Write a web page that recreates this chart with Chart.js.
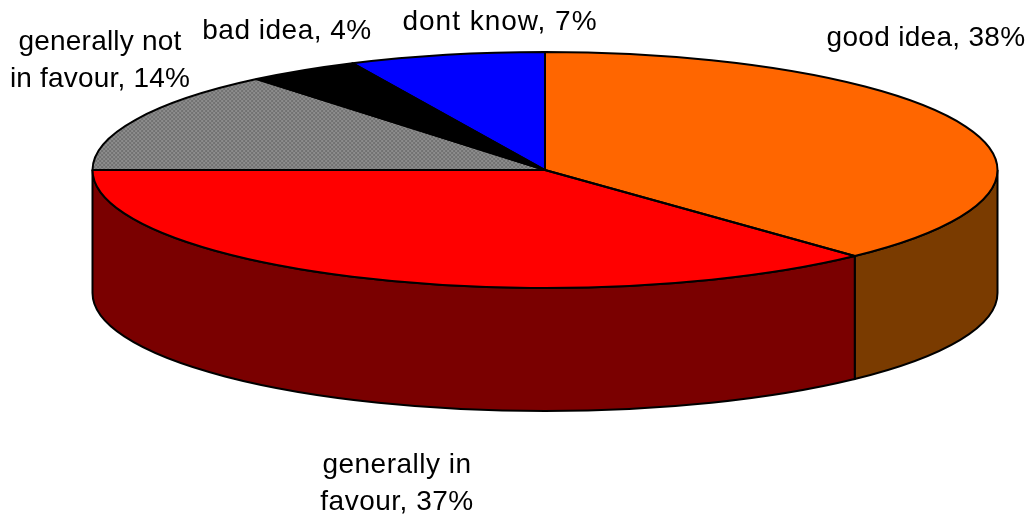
<!DOCTYPE html>
<html>
<head>
<meta charset="utf-8">
<script src="https://cdn.jsdelivr.net/npm/chart.js@4/dist/chart.umd.js"></script>
<style>
  body { margin: 0; background: #fff; }
  canvas { display: block; filter: blur(0.5px); }
</style>
</head>
<body>
<canvas id="pie3d" width="1030" height="515"></canvas>
<script>
const categories = ['good idea', 'generally in favour', 'generally not in favour', 'bad idea', 'dont know'];
const shares = [38, 37, 14, 4, 7];
const topColors = ['#ff6600', '#ff0000', '#808080', '#000000', '#0000ff'];
const sideColors = ['#7a3b00', '#7a0000', '#404040', '#000000', '#000080'];

// label text broken up the way the picture does it
const labelLines = [
  ['good idea, 38%'],
  ['generally in', 'favour, 37%'],
  ['generally not', 'in favour, 14%'],
  ['bad idea, 4%'],
  ['dont know, 7%']
];
const labelSpots = [
  { x: 926, y: 46 },
  { x: 397, y: 473 },
  { x: 100, y: 50 },
  { x: 287, y: 39 },
  { x: 500, y: 30 }
];
const labelTracking = ['0.3px', '0.5px', '0.2px', '0.5px', '1px'];
const labelLeading = 37;

const stretchX = 452.5 / 118; // pie is squashed into an ellipse
const wallDepth = 123;

function ditherGrey() {
  const tile = document.createElement('canvas');
  tile.width = tile.height = 4;
  const c = tile.getContext('2d');
  c.fillStyle = '#8c8c8c';
  c.fillRect(0, 0, 4, 4);
  c.fillStyle = '#727272';
  c.fillRect(0, 0, 2, 2);
  c.fillRect(2, 2, 2, 2);
  const pattern = c.createPattern(tile, 'repeat');
  pattern.setTransform(new DOMMatrix().scale(1 / stretchX, 1));
  return pattern;
}

function squash(ctx, arc) {
  ctx.translate(arc.x, arc.y);
  ctx.scale(stretchX, 1);
  ctx.translate(-arc.x, -arc.y);
}

const pie3d = {
  id: 'pie3d',
  beforeDatasetsDraw(chart) {
    const ctx = chart.ctx;
    const arcs = chart.getDatasetMeta(0).data;
    const p = arcs[0];
    const rx = p.outerRadius * stretchX, ry = p.outerRadius;
    ctx.save();
    ctx.lineWidth = 2;
    ctx.strokeStyle = '#000';
    // side wall: only the front half of the ellipse shows
    arcs.forEach((arc, i) => {
      const from = Math.max(arc.startAngle, 0);
      const to = Math.min(arc.endAngle, Math.PI);
      if (to <= from) return;
      ctx.beginPath();
      ctx.ellipse(p.x, p.y, rx, ry, 0, from, to);
      ctx.ellipse(p.x, p.y + wallDepth, rx, ry, 0, to, from, true);
      ctx.closePath();
      ctx.fillStyle = sideColors[i];
      ctx.fill();
      ctx.stroke();
    });
    ctx.restore();
    ctx.save();
    squash(ctx, p);
  },
  afterDatasetsDraw(chart) {
    const ctx = chart.ctx;
    ctx.restore();
    const arcs = chart.getDatasetMeta(0).data;
    // slice outlines, path squashed but the pen stays round
    ctx.save();
    ctx.lineWidth = 2;
    ctx.strokeStyle = '#000';
    ctx.lineJoin = 'round';
    arcs.forEach(arc => {
      ctx.save();
      squash(ctx, arc);
      ctx.beginPath();
      ctx.moveTo(arc.x, arc.y);
      ctx.arc(arc.x, arc.y, arc.outerRadius, arc.startAngle, arc.endAngle);
      ctx.closePath();
      ctx.restore();
      ctx.stroke();
    });
    ctx.restore();

    ctx.save();
    ctx.font = '28px "Liberation Sans"';
    ctx.fillStyle = '#000';
    ctx.textAlign = 'center';
    labelLines.forEach((lines, i) => {
      ctx.letterSpacing = labelTracking[i];
      lines.forEach((line, n) => {
        ctx.fillText(line, labelSpots[i].x, labelSpots[i].y + n * labelLeading);
      });
    });
    ctx.restore();
  }
};

new Chart(document.getElementById('pie3d'), {
  type: 'pie',
  data: {
    labels: categories,
    datasets: [{
      data: shares,
      backgroundColor: topColors.map((c, i) => i === 2 ? ditherGrey() : c),
      borderWidth: 0,
      clip: false
    }]
  },
  options: {
    responsive: false,
    animation: false,
    layout: { padding: { left: 60, right: 0, top: 52, bottom: 227 } },
    plugins: { legend: { display: false }, tooltip: { enabled: false } }
  },
  plugins: [pie3d]
});
</script>
</body>
</html>
